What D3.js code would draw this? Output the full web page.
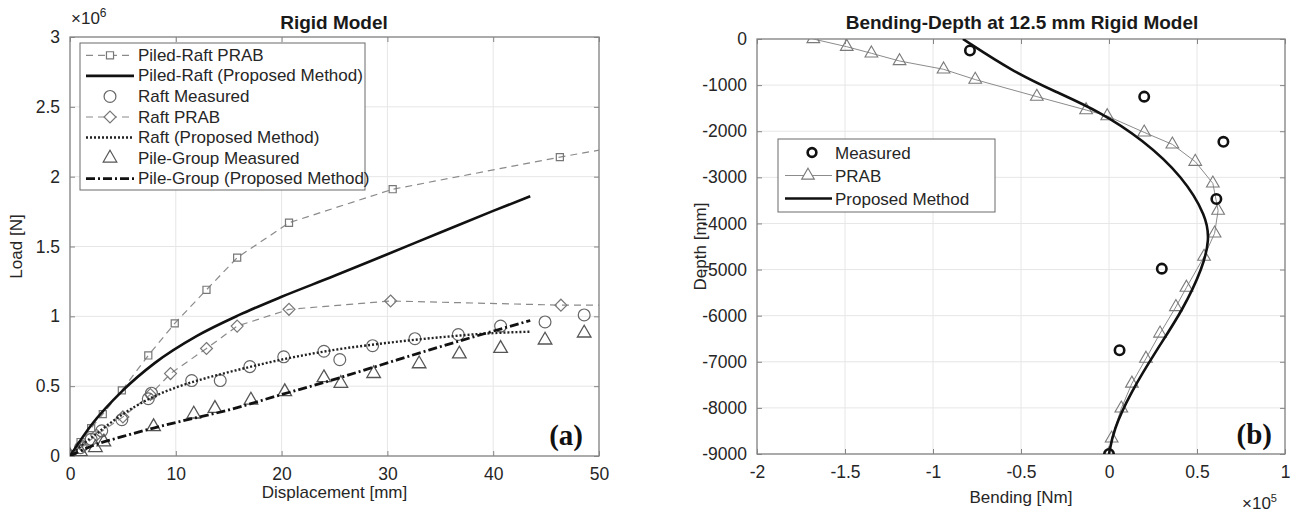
<!doctype html>
<html>
  <head>
    <script src="https://cdn.jsdelivr.net/npm/d3@7"></script>
    <style>
      body { margin: 0; background: #fff; }
      svg { font-family: "Liberation Sans", Arial, sans-serif; }
      .grid line { stroke: #e6e6e6; stroke-width: 1; }
      .frame { fill: none; stroke: #858585; stroke-width: 1.3; }
      .tick text { fill: #262626; font-size: 17.5px; }
      .tick line { stroke: #858585; }
      .lbl { fill: #262626; font-size: 17px; }
      .title { fill: #1a1a1a; font-size: 19px; font-weight: bold; }
      .tag { font-family: "Liberation Serif", "Times New Roman", serif; font-weight: bold; font-size: 29px; fill: #111; }
    </style>
  </head>
  <body>
    <svg width="1297" height="513"></svg>
    <script>
      // ---- panel (a): load-displacement, x in mm, y in 1e6 N ----
      var xTicksA = [0, 10, 20, 30, 40, 50];
      var yTicksA = [0, 0.5, 1, 1.5, 2, 2.5, 3];

      var piledRaftPrab = [[0,0],[1,0.1],[2,0.2],[3.1,0.3],[4.9,0.47],[7.4,0.72],[9.9,0.95],[12.9,1.19],[15.8,1.42],[20.7,1.67],[30.5,1.91],[46.3,2.14],[53,2.23]];
      var piledRaftProp = [[0,0],[2,0.22],[5,0.47],[8,0.665],[12,0.86],[16,1.01],[20,1.14],[25,1.29],[30,1.445],[35,1.6],[40,1.755],[43.5,1.86]];
      var raftMeasured = [[0,0],[1,0.06],[2,0.12],[3,0.18],[4.9,0.26],[7.4,0.41],[7.7,0.45],[11.5,0.54],[14.2,0.54],[17,0.64],[20.2,0.71],[24,0.75],[25.5,0.69],[28.6,0.79],[32.6,0.84],[36.7,0.87],[40.7,0.93],[44.9,0.96],[48.6,1.01]];
      var raftPrab = [[0,0],[1.2,0.07],[2.5,0.15],[5,0.28],[7.6,0.44],[9.5,0.59],[12.9,0.77],[15.8,0.93],[20.7,1.05],[30.3,1.11],[46.4,1.08],[53,1.08]];
      var raftProp = [[0,0],[1,0.07],[2.5,0.16],[5,0.3],[7.5,0.41],[10,0.49],[12.5,0.55],[15,0.6],[20,0.69],[25,0.76],[30,0.81],[35,0.85],[40,0.88],[43.5,0.89]];
      var pileMeasured = [[0,0],[1,0.03],[2.4,0.06],[3.2,0.1],[7.9,0.21],[11.7,0.3],[13.7,0.34],[17.1,0.4],[20.3,0.46],[24,0.56],[25.6,0.52],[28.7,0.59],[33,0.66],[36.8,0.73],[40.7,0.77],[44.9,0.83],[48.6,0.88]];
      var pileProp = [[0,0],[2,0.07],[5,0.14],[7.9,0.2],[10,0.24],[15,0.33],[20,0.44],[24.6,0.54],[29.3,0.65],[34,0.76],[38,0.85],[43.5,0.97]];

      var legendA = ["Piled-Raft PRAB", "Piled-Raft (Proposed Method)", "Raft Measured", "Raft PRAB",
                     "Raft (Proposed Method)", "Pile-Group Measured", "Pile-Group (Proposed Method)"];

      // ---- panel (b): bending-depth, x in 1e5 Nm, y in mm ----
      var xTicksB = [-2, -1.5, -1, -0.5, 0, 0.5, 1];
      var yTicksB = [0, -1000, -2000, -3000, -4000, -5000, -6000, -7000, -8000, -9000];

      var bendMeasured = [[-0.79,-250],[0.2,-1250],[0.65,-2230],[0.61,-3470],[0.3,-4980],[0.06,-6750],[0,-9000]];
      var bendPrab = [[-1.68,0],[-1.49,-167],[-1.35,-310],[-1.19,-477],[-0.94,-657],[-0.76,-880],[-0.41,-1250],[-0.13,-1540],[-0.01,-1670],[0.2,-2025],[0.36,-2285],[0.49,-2660],[0.59,-3130],[0.62,-3720],[0.6,-4215],[0.54,-4720],[0.44,-5390],[0.38,-5810],[0.29,-6385],[0.21,-6930],[0.13,-7470],[0.07,-8010],[0.015,-8660],[0,-9000]];
      var bendProp = [[-0.83,0],[-0.55,-700],[-0.3,-1150],[-0.06,-1560],[0.195,-2191],[0.42,-2987],[0.555,-3855],[0.57,-4360],[0.535,-4939],[0.42,-5878],[0.27,-6746],[0.12,-7686],[0.025,-8482],[0,-9000]];

      var legendB = ["Measured", "PRAB", "Proposed Method"];

      var svg = d3.select("svg");

      var xA = d3.scaleLinear().domain([0, 50]).range([70, 599]);
      var yA = d3.scaleLinear().domain([0, 3]).range([456, 37]);
      var xB = d3.scaleLinear().domain([-2, 1]).range([757, 1285]);
      var yB = d3.scaleLinear().domain([-9000, 0]).range([454, 39]);

      function panel(x, y, xt, yt, id) {
        var g = svg.append("g");
        var grid = g.append("g").attr("class", "grid");
        grid.selectAll("line.v").data(xt).enter().append("line")
          .attr("x1", d => x(d)).attr("x2", d => x(d))
          .attr("y1", y.range()[0]).attr("y2", y.range()[1]);
        grid.selectAll("line.h").data(yt).enter().append("line")
          .attr("y1", d => y(d)).attr("y2", d => y(d))
          .attr("x1", x.range()[0]).attr("x2", x.range()[1]);

        g.append("clipPath").attr("id", id).append("rect")
          .attr("x", x.range()[0]).attr("y", y.range()[1])
          .attr("width", x.range()[1] - x.range()[0])
          .attr("height", y.range()[0] - y.range()[1]);

        var fmt = d => String(d);
        g.append("g").attr("transform", "translate(0," + y.range()[0] + ")")
          .call(d3.axisBottom(x).tickValues(xt).tickFormat(fmt).tickSize(-5).tickPadding(12))
          .call(s => s.select(".domain").remove());
        g.append("g").attr("transform", "translate(0," + y.range()[1] + ")")
          .call(d3.axisTop(x).tickValues(xt).tickFormat("").tickSize(-5))
          .call(s => s.select(".domain").remove());
        g.append("g").attr("transform", "translate(" + x.range()[0] + ",0)")
          .call(d3.axisLeft(y).tickValues(yt).tickFormat(fmt).tickSize(-5).tickPadding(10))
          .call(s => s.select(".domain").remove());
        g.append("g").attr("transform", "translate(" + x.range()[1] + ",0)")
          .call(d3.axisRight(y).tickValues(yt).tickFormat("").tickSize(-5))
          .call(s => s.select(".domain").remove());

        g.append("rect").attr("class", "frame")
          .attr("x", x.range()[0]).attr("y", y.range()[1])
          .attr("width", x.range()[1] - x.range()[0])
          .attr("height", y.range()[0] - y.range()[1]);

        return g.append("g").attr("clip-path", "url(#" + id + ")");
      }

      function drawLine(g, data, x, y, stroke, width, dash, curve) {
        g.append("path").datum(data)
          .attr("fill", "none").attr("stroke", stroke).attr("stroke-width", width)
          .attr("stroke-dasharray", dash)
          .attr("d", d3.line().x(d => x(d[0])).y(d => y(d[1])).curve(curve || d3.curveLinear));
      }

      function drawMarks(g, data, x, y, type, size, stroke, width) {
        g.selectAll(null).data(data).enter().append("path")
          .attr("transform", d => "translate(" + x(d[0]) + "," + y(d[1]) + ")")
          .attr("d", d3.symbol().type(type).size(size))
          .attr("fill", "none").attr("stroke", stroke).attr("stroke-width", width);
      }

      // ---------- panel (a) ----------
      var pa = panel(xA, yA, xTicksA, yTicksA, "clipA");
      var gray = "#8a8a8a";
      drawLine(pa, piledRaftPrab, xA, yA, gray, 1.2, "7,5");
      drawMarks(pa, piledRaftPrab, xA, yA, d3.symbolSquare, 50, "#777", 1.2);
      drawLine(pa, raftPrab, xA, yA, gray, 1.2, "7,5");
      drawMarks(pa, raftPrab, xA, yA, d3.symbolDiamond2, 90, "#777", 1.2);
      drawMarks(pa, raftMeasured, xA, yA, d3.symbolCircle, 110, "#666", 1.2);
      drawMarks(pa, pileMeasured, xA, yA, d3.symbolTriangle, 80, "#555", 1.3);
      drawLine(pa, piledRaftProp, xA, yA, "#111", 2.6, null, d3.curveMonotoneX);
      drawLine(pa, raftProp, xA, yA, "#222", 2.4, "2,2", d3.curveMonotoneX);
      drawLine(pa, pileProp, xA, yA, "#111", 2.8, "9,3,2,3", d3.curveMonotoneX);

      svg.append("text").attr("class", "title").attr("x", 334).attr("y", 29)
        .attr("text-anchor", "middle").text("Rigid Model");
      var e6 = svg.append("text").attr("class", "lbl").attr("x", 71).attr("y", 24);
      e6.append("tspan").text("\u00d710");
      e6.append("tspan").attr("dy", -7).attr("font-size", 12).text("6");
      svg.append("text").attr("class", "lbl").attr("text-anchor", "middle")
        .attr("transform", "translate(22," + yA(1.5) + ") rotate(-90)").text("Load [N]");
      svg.append("text").attr("class", "lbl").attr("text-anchor", "middle")
        .attr("x", xA(25)).attr("y", 498).text("Displacement [mm]");
      svg.append("text").attr("class", "tag").attr("x", 583).attr("y", 445)
        .attr("text-anchor", "end").text("(a)");

      // legend (a)
      var lgA = svg.append("g");
      lgA.append("rect").attr("x", 80).attr("y", 43).attr("width", 285).attr("height", 147)
        .attr("fill", "#fff").attr("stroke", "#6a6a6a").attr("stroke-width", 1);
      var rowA = d3.scaleBand().domain(legendA).range([45, 189]);
      var sampleA = [
        {line: [gray, 1.2, "7,5"], mark: [d3.symbolSquare, 50, "#777"]},
        {line: ["#111", 2.6, null]},
        {mark: [d3.symbolCircle, 110, "#666"]},
        {line: [gray, 1.2, "7,5"], mark: [d3.symbolDiamond2, 90, "#777"]},
        {line: ["#222", 2.4, "2,2"]},
        {mark: [d3.symbolTriangle, 80, "#555"]},
        {line: ["#111", 2.8, "9,3,2,3"]}
      ];
      legendA.forEach(function(name, i) {
        var cy = rowA(name) + rowA.bandwidth() / 2;
        var s = sampleA[i];
        if (s.line) {
          lgA.append("line").attr("x1", 86).attr("x2", 134).attr("y1", cy).attr("y2", cy)
            .attr("stroke", s.line[0]).attr("stroke-width", s.line[1]).attr("stroke-dasharray", s.line[2]);
        }
        if (s.mark) {
          lgA.append("path").attr("transform", "translate(110," + cy + ")")
            .attr("d", d3.symbol().type(s.mark[0]).size(s.mark[1]))
            .attr("fill", "#fff").attr("stroke", s.mark[2]).attr("stroke-width", 1.2);
        }
        lgA.append("text").attr("class", "lbl").attr("font-size", 15).attr("x", 138).attr("y", cy + 5.5).text(name);
      });

      // ---------- panel (b) ----------
      var pb = panel(xB, yB, xTicksB, yTicksB, "clipB");
      drawLine(pb, bendPrab, xB, yB, "#8c8c8c", 1, null);
      drawMarks(pb, bendPrab, xB, yB, d3.symbolTriangle, 70, "#7a7a7a", 1.1);
      drawLine(pb, bendProp, xB, yB, "#111", 2.6, null, d3.curveBasis);
      drawMarks(pb, bendMeasured, xB, yB, d3.symbolCircle, 70, "#111", 2.6);

      svg.append("text").attr("class", "title").attr("x", 1022).attr("y", 29)
        .attr("text-anchor", "middle").text("Bending-Depth at 12.5 mm Rigid Model");
      var e5 = svg.append("text").attr("class", "lbl").attr("x", 1242).attr("y", 509).attr("font-size", 15);
      e5.append("tspan").text("\u00d710");
      e5.append("tspan").attr("dy", -7).attr("font-size", 11).text("5");
      svg.append("text").attr("class", "lbl").attr("text-anchor", "middle")
        .attr("transform", "translate(706," + yB(-4500) + ") rotate(-90)").text("Depth [mm]");
      svg.append("text").attr("class", "lbl").attr("text-anchor", "middle")
        .attr("x", xB(-0.5)).attr("y", 503).text("Bending [Nm]");
      svg.append("text").attr("class", "tag").attr("x", 1272).attr("y", 444)
        .attr("text-anchor", "end").text("(b)");

      // legend (b)
      var lgB = svg.append("g");
      lgB.append("rect").attr("x", 778).attr("y", 139).attr("width", 217).attr("height", 73)
        .attr("fill", "#fff").attr("stroke", "#6a6a6a").attr("stroke-width", 1);
      var rowB = d3.scaleBand().domain(legendB).range([141, 210]);
      legendB.forEach(function(name, i) {
        var cy = rowB(name) + rowB.bandwidth() / 2;
        if (i === 0) {
          lgB.append("path").attr("transform", "translate(812," + cy + ")")
            .attr("d", d3.symbol().type(d3.symbolCircle).size(60))
            .attr("fill", "none").attr("stroke", "#111").attr("stroke-width", 2.6);
        } else if (i === 1) {
          lgB.append("line").attr("x1", 785).attr("x2", 832).attr("y1", cy).attr("y2", cy)
            .attr("stroke", "#8c8c8c").attr("stroke-width", 1);
          lgB.append("path").attr("transform", "translate(808," + cy + ")")
            .attr("d", d3.symbol().type(d3.symbolTriangle).size(70))
            .attr("fill", "#fff").attr("stroke", "#7a7a7a").attr("stroke-width", 1.1);
        } else {
          lgB.append("line").attr("x1", 785).attr("x2", 832).attr("y1", cy).attr("y2", cy)
            .attr("stroke", "#111").attr("stroke-width", 2.6);
        }
        lgB.append("text").attr("class", "lbl").attr("font-size", 18).attr("x", 835).attr("y", cy + 6.5).text(name);
      });
    </script>
  </body>
</html>
